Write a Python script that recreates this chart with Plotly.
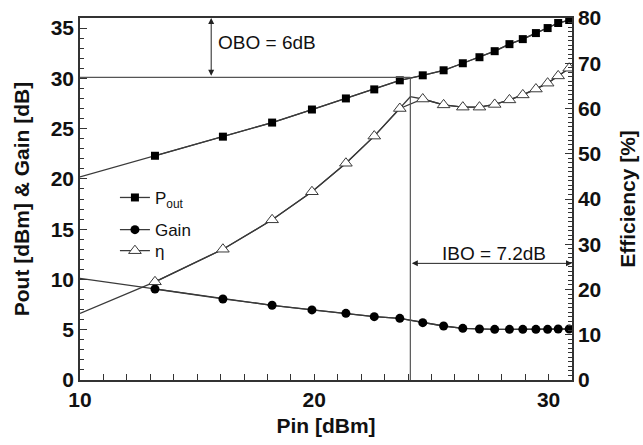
import plotly.graph_objects as go

# ---- data ----
pin = [13.2, 16.1, 18.2, 19.9, 21.35, 22.56, 23.65, 24.63, 25.52, 26.34,
       27.05, 27.7, 28.33, 28.9, 29.46, 29.96, 30.41, 30.88]
pout = [22.3, 24.2, 25.6, 26.9, 28.0, 28.9, 29.8, 30.3, 30.8, 31.5,
        32.1, 32.7, 33.4, 33.9, 34.5, 35.0, 35.5, 35.8]
gain = [9.05, 8.06, 7.43, 6.97, 6.63, 6.3, 6.13, 5.7, 5.37, 5.14,
        5.07, 5.04, 5.04, 5.04, 5.04, 5.04, 5.07, 5.07]
eff = [21.7, 28.9, 35.4, 41.6, 47.9, 53.9, 60.0, 62.1, 60.8, 60.3,
       60.3, 60.9, 61.9, 63.0, 64.3, 65.6, 67.2, 68.9]

# line values where the curves enter the plot at Pin = 10 dBm
edge_pin = 10.0
edge_pout = 20.2
edge_gain = 10.1
edge_eff = 14.7

# saturation point (kink of the efficiency curve) and back-off levels
sat_pin = 24.1
sat_eff = 62.6
sat_pout = 30.1
pout_max = 36.0
pin_max = 31.0
obo_label = "OBO = 6dB"
ibo_label = "IBO = 7.2dB"
ibo_arrow_level = 11.6

LINE = "#3a3a3a"
MARK = "#000000"
GUIDE = "#555555"
FONT = "Liberation Sans, Arial"

# build line arrays
pin_line = [edge_pin] + pin
pout_line = [edge_pout] + pout
gain_line = [edge_gain] + gain
eff_pin_line = [edge_pin]
eff_line = [edge_eff]
for p, e in zip(pin, eff):
    if eff_pin_line[-1] < sat_pin < p:
        eff_pin_line.append(sat_pin)
        eff_line.append(sat_eff)
    eff_pin_line.append(p)
    eff_line.append(e)

fig = go.Figure()

# lines (no legend)
fig.add_trace(go.Scatter(x=pin_line, y=pout_line, mode="lines",
                         line=dict(color=LINE, width=1.3), showlegend=False, hoverinfo="skip"))
fig.add_trace(go.Scatter(x=pin_line, y=gain_line, mode="lines",
                         line=dict(color=LINE, width=1.3), showlegend=False, hoverinfo="skip"))
fig.add_trace(go.Scatter(x=eff_pin_line, y=eff_line, mode="lines", yaxis="y2",
                         line=dict(color=LINE, width=1.3), showlegend=False, hoverinfo="skip"))

# markers + legend entries
fig.add_trace(go.Scatter(x=pin, y=pout, mode="lines+markers", name="P<sub>out</sub>",
                         legend="legend",
                         line=dict(color=LINE, width=1.3),
                         marker=dict(symbol="square", size=8, color=MARK)))
fig.add_trace(go.Scatter(x=pin, y=gain, mode="lines+markers", name="Gain",
                         legend="legend2",
                         line=dict(color=LINE, width=1.3),
                         marker=dict(symbol="circle", size=9, color=MARK)))
fig.add_trace(go.Scatter(x=pin, y=eff, mode="lines+markers", name="η", yaxis="y2",
                         legend="legend3",
                         line=dict(color=LINE, width=1.3),
                         marker=dict(symbol="triangle-up", size=11, color="white",
                                     line=dict(color=LINE, width=1))))

# guide lines
fig.add_shape(type="line", xref="x", yref="y", x0=edge_pin, x1=sat_pin,
              y0=sat_pout, y1=sat_pout, line=dict(color=GUIDE, width=1.2))
fig.add_shape(type="line", xref="x", yref="y", x0=sat_pin, x1=sat_pin,
              y0=0, y1=sat_pout, line=dict(color=GUIDE, width=1.2))

# OBO arrow
fig.add_annotation(x=15.6, y=pout_max, ax=15.6, ay=sat_pout, xref="x", yref="y",
                   axref="x", ayref="y", text="", showarrow=True,
                   arrowside="end+start", arrowhead=2, arrowsize=1.2, arrowwidth=1,
                   arrowcolor="#222", standoff=0, startstandoff=0)
fig.add_annotation(x=15.8, y=33.6, xref="x", yref="y", text=obo_label, showarrow=False,
                   xanchor="left", yanchor="middle",
                   font=dict(family=FONT, size=19, color="#111"))

# IBO arrow
fig.add_annotation(x=pin_max, y=ibo_arrow_level, ax=sat_pin, ay=ibo_arrow_level,
                   xref="x", yref="y", axref="x", ayref="y", text="", showarrow=True,
                   arrowside="end+start", arrowhead=2, arrowsize=1.2, arrowwidth=1,
                   arrowcolor="#222", standoff=0, startstandoff=0)
fig.add_annotation(x=27.65, y=12.6, xref="x", yref="y", text=ibo_label, showarrow=False,
                   xanchor="center", yanchor="middle",
                   font=dict(family=FONT, size=19, color="#111"))

tickfont = dict(family=FONT, size=21, color="#111", weight="bold")
titlefont = dict(family=FONT, size=21, color="#111", weight="bold")
legfont = dict(family=FONT, size=17, color="#111")


def leg(ypos):
    return dict(x=0.071, y=ypos, xanchor="left", yanchor="middle",
                bgcolor="rgba(0,0,0,0)", borderwidth=0, font=legfont)


fig.update_layout(
    width=643, height=445,
    margin=dict(l=80, r=71, t=18, b=65),
    plot_bgcolor="white", paper_bgcolor="white",
    font=dict(family=FONT, color="#111"),
    xaxis=dict(range=[edge_pin, pin_max], dtick=10, tick0=0, ticks="inside", ticklen=6,
               tickwidth=1.2, tickcolor="#333", automargin=False,
               minor=dict(dtick=1, ticks="inside", ticklen=6, tickcolor="#333"),
               showline=True, linecolor="#333", linewidth=1.5, mirror=True,
               showgrid=False, zeroline=False, tickfont=tickfont,
               title=dict(text="Pin [dBm]", font=titlefont, standoff=8)),
    yaxis=dict(range=[0, pout_max], dtick=5, ticks="inside", ticklen=7, tickwidth=1.2,
               tickcolor="#333", automargin=False,
               minor=dict(dtick=1, ticks="inside", ticklen=4, tickcolor="#333"),
               showline=True, linecolor="#333", linewidth=1.5,
               showgrid=False, zeroline=False, tickfont=tickfont,
               title=dict(text="Pout [dBm] & Gain [dB]", font=titlefont, standoff=15)),
    yaxis2=dict(range=[0, 80], dtick=10, overlaying="y", side="right", ticks="inside",
                ticklen=7, tickwidth=1.2, tickcolor="#333", automargin=False,
                minor=dict(dtick=1, ticks="inside", ticklen=4, tickcolor="#333"),
                showline=True, linecolor="#333", linewidth=1.5,
                showgrid=False, zeroline=False, tickfont=tickfont,
                title=dict(text="Efficiency [%]", font=titlefont, standoff=20)),
    legend=leg(0.503),
    legend2=leg(0.414),
    legend3=leg(0.356),
)

fig.write_html("out.html")
